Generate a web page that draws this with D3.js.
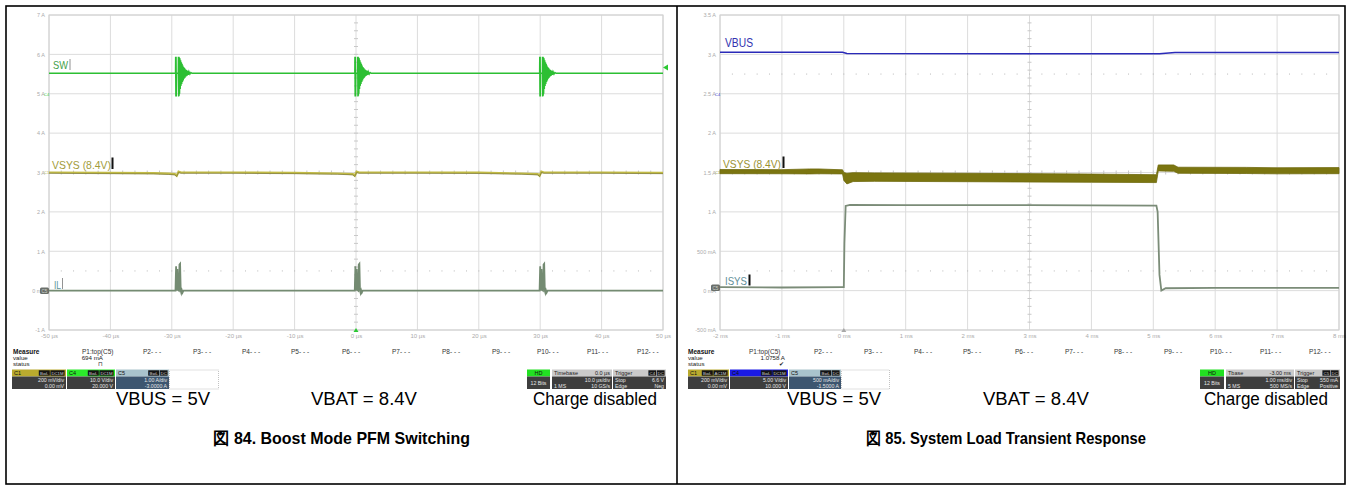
<!DOCTYPE html>
<html><head><meta charset="utf-8">
<script src="https://cdn.jsdelivr.net/npm/d3@7"></script>
<style>body{margin:0;background:#fff}svg{display:block;font-family:"Liberation Sans",Arial,sans-serif}</style>
</head><body><svg id="c" width="1351" height="487"></svg>
<script>
// ---------------- DATA ----------------
const leftTimeTicks = [-50,-40,-30,-20,-10,0,10,20,30,40,50];
const leftTimeLabels = ["-50 µs","-40 µs","-30 µs","-20 µs","-10 µs","0 µs","10 µs","20 µs","30 µs","40 µs","50 µs"];
const leftAmpTicks = [7,6,5,4,3,2,1,0,-1];
const leftAmpLabels = ["7 A","6 A","5 A","4 A","3 A","2 A","1 A","0 mA","-1 A"];
const rightTimeTicks = [-2,-1,0,1,2,3,4,5,6,7,8];
const rightTimeLabels = ["-2 ms","-1 ms","0 ms","1 ms","2 ms","3 ms","4 ms","5 ms","6 ms","7 ms","8 ms"];
const rightAmpTicks = [3.5,3,2.5,2,1.5,1,0.5,0,-0.5];
const rightAmpLabels = ["3.5 A","3 A","2.5 A","2 A","1.5 A","1 A","500 mA","0 mA","-500 mA"];

// Left scope (µs, A)
const swBaseline = 5.52;
const swBurstTimes = [-29.4, -0.2, 29.9];
const swBurstShape = [[0,5.52],[0.02,5.94],[0.06,4.93],[0.1,5.94],[0.14,4.93],[0.18,5.52],[0.45,5.52],[0.47,5.94],[0.51,4.93],[0.55,5.94],[0.59,4.95],[0.63,5.92],[0.67,5.0],[0.72,5.9],[0.78,5.12],[0.84,5.85],[0.9,5.2],[0.96,5.8],[1.02,5.25],[1.08,5.76],[1.14,5.3],[1.2,5.72],[1.27,5.34],[1.34,5.68],[1.41,5.38],[1.48,5.65],[1.56,5.41],[1.64,5.62],[1.72,5.44],[1.8,5.6],[1.9,5.46],[2.0,5.58],[2.1,5.48],[2.2,5.56],[2.35,5.5],[2.5,5.54],[2.7,5.52]];
const ilBurstShape = [[0,0],[0.1,0.62],[0.2,0.0],[0.3,0.55],[0.4,0.02],[0.55,0.0],[0.65,0.66],[0.75,0.68],[0.85,0.0],[0.95,-0.06],[1.05,0.0],[1.15,-0.05],[1.3,0.0]];
const vsysLeft = [[-50,3.0],[-40,2.99],[-33,2.985],[-30.5,2.97],[-29.5,2.96],[-29.2,2.92],[-28.9,3.02],[-28.5,3.0],[-20,3.0],[-10,2.99],[-3,2.975],[-0.5,2.96],[-0.2,2.92],[0.1,3.02],[0.5,3.0],[10,3.0],[20,2.995],[27,2.975],[29.6,2.96],[29.9,2.92],[30.2,3.02],[30.6,3.0],[40,3.0],[50,2.99]];

// Right scope (ms, A)
const vbusRight = [[-2,3.027],[-0.02,3.027],[0.05,3.01],[5.1,3.008],[5.35,3.025],[8,3.025]];
const vsysRightBand = [[-2,1.538,1.485],[-1,1.536,1.484],[-0.55,1.545,1.482],[-0.4,1.545,1.484],[-0.02,1.534,1.482],[0.0,1.50,1.40],[0.05,1.49,1.355],[0.15,1.498,1.385],[0.5,1.495,1.388],[2,1.49,1.383],[4,1.48,1.376],[5.05,1.472,1.372],[5.08,1.596,1.52],[5.33,1.596,1.515],[5.4,1.567,1.49],[6.5,1.565,1.487],[7,1.56,1.483],[8,1.562,1.485]];
const isysRight = [[-2,0.045],[-1,0.04],[-0.03,0.045],[0,0.045],[0.01,0.6],[0.03,1.075],[0.1,1.09],[1,1.085],[3,1.085],[5.05,1.08],[5.07,1.0],[5.1,0.2],[5.13,0.0],[5.2,0.03],[6,0.035],[8,0.035]];

const measureSlots = ["P1:top(C5)","P2- - -","P3- - -","P4- - -","P5- - -","P6- - -","P7- - -","P8- - -","P9- - -","P10- - -","P11- - -","P12- - -"];
const infoTexts = ["VBUS = 5V","VBAT = 8.4V","Charge disabled"];
const captions = ["図 84. Boost Mode PFM Switching","図 85. System Load Transient Response"];

// ---------------- DRAW ----------------
const svg = d3.select("#c");
svg.append("rect").attr("width",1351).attr("height",487).attr("fill","#fff");

function txt(g,x,y,s,size,fill,anchor,weight){
  return g.append("text").attr("x",x).attr("y",y).text(s).attr("font-size",size).attr("fill",fill||"#000")
    .attr("text-anchor",anchor||"start").attr("font-weight",weight||"normal");
}

function drawScope(cfg){
  const g = svg.append("g");
  const x = d3.scaleLinear().domain(cfg.xDomain).range([cfg.x0,cfg.x1]);
  const y = d3.scaleLinear().domain(cfg.yDomain).range([cfg.y1,cfg.y0]);
  g.selectAll(".vg").data(cfg.xTicks).join("line").attr("x1",d=>x(d)).attr("x2",d=>x(d)).attr("y1",cfg.y0).attr("y2",cfg.y1).attr("stroke","#dcdcdc").attr("stroke-width",1);
  g.selectAll(".hg").data(cfg.yTicks).join("line").attr("y1",d=>y(d)).attr("y2",d=>y(d)).attr("x1",cfg.x0).attr("x2",cfg.x1).attr("stroke","#dcdcdc").attr("stroke-width",1);
  g.append("rect").attr("x",cfg.x0).attr("y",cfg.y0).attr("width",cfg.x1-cfg.x0).attr("height",cfg.y1-cfg.y0).attr("fill","none").attr("stroke","#cfcfcf");
  const xd = (cfg.xDomain[1]-cfg.xDomain[0])/10, yd=(cfg.yDomain[1]-cfg.yDomain[0])/8;
  const cx = x(cfg.xDomain[0]+5*xd), cy = y(cfg.yDomain[0]+4*yd);
  const yMinor = d3.range(1,40).map(i=>cfg.yDomain[0]+i*yd/5);
  const xMinor = d3.range(1,50).map(i=>cfg.xDomain[0]+i*xd/5);
  g.selectAll(".ty").data(yMinor).join("line").attr("x1",cx-2).attr("x2",cx+2).attr("y1",d=>y(d)).attr("y2",d=>y(d)).attr("stroke","#c8c8c8");
  g.selectAll(".tx").data(xMinor).join("line").attr("y1",cy-2).attr("y2",cy+2).attr("x1",d=>x(d)).attr("x2",d=>x(d)).attr("stroke","#c8c8c8");
  cfg.dotLevels.forEach(lv=>{
    g.selectAll(null).data(xMinor).join("rect").attr("x",d=>x(d)-0.5).attr("y",y(lv)-0.5).attr("width",1).attr("height",1).attr("fill","#b8b8b8");
  });
  const ay = g.append("g").attr("transform",`translate(${cfg.x0-2},0)`)
    .call(d3.axisLeft(y).tickValues(cfg.yTicks).tickFormat((d,i)=>cfg.yLabels[i]).tickSize(0).tickPadding(2));
  ay.select(".domain").remove();
  ay.selectAll("text").attr("font-size",5.5).attr("fill","#ababab").attr("font-family","Liberation Sans, Arial");
  const ax = g.append("g").attr("transform",`translate(0,${cfg.y1+1})`)
    .call(d3.axisBottom(x).tickValues(cfg.xTicks).tickFormat((d,i)=>cfg.xLabels[i]).tickSize(0).tickPadding(3));
  ax.select(".domain").remove();
  ax.selectAll("text").attr("font-size",6).attr("fill","#ababab").attr("font-family","Liberation Sans, Arial");
  return {g,x,y};
}

// ===== LEFT SCOPE =====
const L = drawScope({x0:49,x1:663,y0:15,y1:330,xDomain:[-50,50],yDomain:[-1,7],xTicks:leftTimeTicks,xLabels:leftTimeLabels,yTicks:leftAmpTicks,yLabels:leftAmpLabels,dotLevels:[0.5]});
function withBursts(base, shape, times, t0, t1){
  const pts=[[t0,base]];
  times.forEach(tb=>{ pts.push([tb-0.05,base]); shape.forEach(p=>pts.push([tb+p[0],p[1]])); });
  pts.push([t1,base]);
  return pts;
}
const swSeries = withBursts(swBaseline, swBurstShape, swBurstTimes, -50, 50);
const ilSeries = withBursts(0, ilBurstShape, swBurstTimes, -50, 50);
const lineL = d3.line().x(d=>L.x(d[0])).y(d=>L.y(d[1]));
L.g.append("path").attr("d",lineL(vsysLeft)).attr("fill","none").attr("stroke","#c2bb45").attr("stroke-width",2.2);
L.g.append("path").attr("d",lineL(vsysLeft)).attr("transform","translate(0,0.8)").attr("fill","none").attr("stroke","#6b6a3a").attr("stroke-width",0.6);
L.g.append("path").attr("d",lineL(ilSeries)).attr("fill","none").attr("stroke","#748b72").attr("stroke-width",1.8);
L.g.append("path").attr("d",lineL(swSeries)).attr("fill","none").attr("stroke","#2cbf33").attr("stroke-width",1.4);
txt(L.g,53,68.5,"SW",11,"#3f9e48").attr("textLength",15).attr("lengthAdjust","spacingAndGlyphs");
L.g.append("line").attr("x1",70).attr("x2",70).attr("y1",59).attr("y2",70).attr("stroke","#777").attr("stroke-width",0.8);
txt(L.g,52,168.5,"VSYS (8.4V)",11,"#a29c3a").attr("textLength",59).attr("lengthAdjust","spacingAndGlyphs");
L.g.append("rect").attr("x",111.5).attr("y",157.5).attr("width",2).attr("height",11.5).attr("fill","#111");
txt(L.g,54,288.5,"IL",11,"#5b9399").attr("textLength",7).attr("lengthAdjust","spacingAndGlyphs");
L.g.append("line").attr("x1",62.5).attr("x2",62.5).attr("y1",278).attr("y2",289).attr("stroke","#777").attr("stroke-width",0.8);
txt(L.g,44,95.5,"C4",4,"#3ccf3c");
txt(L.g,44,174,"C1",4,"#b4ad3c");
L.g.append("rect").attr("x",40).attr("y",287.5).attr("width",9).attr("height",6.5).attr("rx",1.5).attr("fill","#6a6f6a");
txt(L.g,44.5,292.6,"C5",4.5,"#cfd6cf","middle");
L.g.append("path").attr("d",`M663,${67.5} l5,-3 v6 z`).attr("fill","#2cc833");
L.g.append("path").attr("d",`M${L.x(0)},${328} l-2.5,4 h5 z`).attr("fill","#2cc833");

// ===== RIGHT SCOPE =====
const R = drawScope({x0:720,x1:1339,y0:15,y1:330,xDomain:[-2,8],yDomain:[-0.5,3.5],xTicks:rightTimeTicks,xLabels:rightTimeLabels,yTicks:rightAmpTicks,yLabels:rightAmpLabels,dotLevels:[2.75,0.25]});
const lineR = d3.line().x(d=>R.x(d[0])).y(d=>R.y(d[1]));
const areaR = d3.area().x(d=>R.x(d[0])).y0(d=>R.y(d[2])).y1(d=>R.y(d[1]));
R.g.append("path").attr("d",areaR(vsysRightBand)).attr("fill","#7b7510").attr("stroke","#6f6a0c").attr("stroke-width",0.8);
R.g.append("path").attr("d",lineR(isysRight)).attr("fill","none").attr("stroke","#7b8c78").attr("stroke-width",1.8);
R.g.append("path").attr("d",lineR(vbusRight)).attr("fill","none").attr("stroke","#2a2ab8").attr("stroke-width",1.5);
txt(R.g,725,47,"VBUS",12,"#3232b0").attr("textLength",28).attr("lengthAdjust","spacingAndGlyphs");
txt(R.g,723,167.5,"VSYS (8.4V)",11,"#9a9232").attr("textLength",58).attr("lengthAdjust","spacingAndGlyphs");
R.g.append("rect").attr("x",782.5).attr("y",156.5).attr("width",2).attr("height",11.5).attr("fill","#111");
txt(R.g,725,285,"ISYS",11,"#5f8e97").attr("textLength",22).attr("lengthAdjust","spacingAndGlyphs");
R.g.append("rect").attr("x",748.5).attr("y",274.5).attr("width",2).attr("height",11).attr("fill","#111");
txt(R.g,715,96,"C4",4,"#3a3ad0");
txt(R.g,715,174,"C1",4,"#8f8a20");
R.g.append("rect").attr("x",711).attr("y",284.5).attr("width",9).attr("height",6.5).attr("rx",1.5).attr("fill","#6a6f6a");
txt(R.g,715.5,289.6,"C5",4.5,"#cfd6cf","middle");
R.g.append("path").attr("d",`M${R.x(0)},${328} l-2.5,4 h5 z`).attr("fill","#a8a8a8");

// ===== MEASUREMENT BARS =====
function measureBar(x0, slotXs, val, statusGlyph, valRight, statusX){
  const g = svg.append("g");
  txt(g,x0,354,"Measure",6.5,"#111","start","bold");
  txt(g,x0,359.8,"value",6.2,"#222");
  txt(g,x0,365.5,"status",6.2,"#222");
  measureSlots.forEach((s,i)=>txt(g,slotXs[i],354,s,6.5,"#333"));
  txt(g,valRight,359.8,val,6.2,"#222","end");
  txt(g,statusX,365.5,statusGlyph,6,"#222","middle");
}
measureBar(13,[82,143,193,242,291,342,392,442,492,537,587,637],"694 mA","⊓",103,100);
measureBar(688,[749,814,864,914,963,1015,1065,1114,1164,1210,1260,1309],"1.0758 A","✔",785,781);

function badge(x,w,hdrFill,hdrText,hdrTextFill,tags,bodyFill,lines,hdrRight){
  const g = svg.append("g"), y=369.5;
  g.append("rect").attr("x",x).attr("y",y).attr("width",w).attr("height",7).attr("fill",hdrFill);
  txt(g,x+2,y+5.6,hdrText,5.5,hdrTextFill);
  let tx = x+w-0.8;
  tags.slice().reverse().forEach(t=>{
    const tw = t.length*3.2+2; tx -= tw;
    g.append("rect").attr("x",tx).attr("y",y+0.8).attr("width",tw-0.6).attr("height",5.4).attr("fill","#141414");
    txt(g,tx+tw/2-0.3,y+5.1,t,4.3,"#cfcfcf","middle");
  });
  if(hdrRight) txt(g,tx-2,y+5.6,hdrRight,5.5,hdrTextFill,"end");
  g.append("rect").attr("x",x).attr("y",y+7).attr("width",w).attr("height",12.5).attr("fill",bodyFill);
  lines.forEach((l,i)=>{
    const by = y+12.6+i*6;
    if(Array.isArray(l)){ txt(g,x+2,by,l[0],5.2,"#e6e6e6"); txt(g,x+w-2,by,l[1],5.2,"#e6e6e6","end"); }
    else if(l.c){ txt(g,x+w/2,by+3,l.c,5.2,"#e6e6e6","middle"); }
    else txt(g,x+w-2,by,l,5.2,"#e6e6e6","end");
  });
}
function dashedBox(x,w){
  svg.append("rect").attr("x",x+0.5).attr("y",370).attr("width",w).attr("height",19).attr("fill","none").attr("stroke","#9a9a9a").attr("stroke-width",0.6).attr("stroke-dasharray","1,1");
}
badge(12,54,"#b9aa2e","C1","#111",["BwL","DC1M"],"#3e3e3e",["200 mV/div","0.00 mV"]);
badge(67,48,"#2bea2b","C4","#111",["BwL","DC1M"],"#3e3e3e",["10.0 V/div","20.000 V"]);
badge(116,53,"#a9c3cc","C5","#111",["BwL","DC"],"#3d5670",["1.00 A/div","-3.0000 A"]);
dashedBox(169,49);
badge(527,23,"#22e022","","#111",[],"#3e3e3e",[{c:"12 Bits"}]);
txt(svg,538.5,375,"HD",5.5,"#111","middle");
badge(552,60,"#cacaca","Timebase","#222",[],"#3e3e3e",["10.0 µs/div",["1 MS","10 GS/s"]],null);
txt(svg,610,375,"0.0 µs",5.5,"#222","end");
badge(613,53,"#cacaca","Trigger","#222",["C4","DC"],"#3e3e3e",[["Stop","6.6 V"],["Edge","Neg"]]);
badge(688,41,"#b9aa2e","C1","#111",["BwL","AC1M"],"#3e3e3e",["200 mV/div","0.00 mV"]);
badge(730,58,"#1a1ae6","C4","#111",["BwL","DC1M"],"#3e3e3e",["5.00 V/div","10.000 V"]);
badge(789,52,"#a9c3cc","C5","#111",["BwL","DC"],"#3d5670",["500 mA/div","-1.5000 A"]);
dashedBox(841,48);
badge(1200,24,"#22e022","","#111",[],"#3e3e3e",[{c:"12 Bits"}]);
txt(svg,1212,375,"HD",5.5,"#111","middle");
badge(1226,68,"#cacaca","Tbase","#222",[],"#3e3e3e",["1.00 ms/div",["5 MS","500 MS/s"]]);
txt(svg,1291,375,"-3.00 ms",5.5,"#222","end");
badge(1295,45,"#cacaca","Trigger","#222",["C5","DC"],"#3e3e3e",[["Stop","550 mA"],["Edge","Positive"]]);

// ===== INFO TEXT + CAPTIONS =====
const infoX = [[116,311,533],[787,983,1204]];
const infoW = [94,106,124];
infoX.forEach(row=>row.forEach((xx,i)=>{
  txt(svg,xx,405,infoTexts[i],18,"#000").attr("textLength",infoW[i]).attr("lengthAdjust","spacingAndGlyphs");
}));
txt(svg,213,444,captions[0],16.5,"#000","start","bold").attr("textLength",257).attr("lengthAdjust","spacingAndGlyphs");
txt(svg,866,444,captions[1],16.5,"#000","start","bold").attr("textLength",280).attr("lengthAdjust","spacingAndGlyphs");

// ===== TABLE BORDERS =====
svg.append("rect").attr("x",6).attr("y",6).attr("width",1339).attr("height",478).attr("fill","none").attr("stroke","#000").attr("stroke-width",1.6);
svg.append("line").attr("x1",677).attr("x2",677).attr("y1",6).attr("y2",484).attr("stroke","#000").attr("stroke-width",1.6);
</script></body></html>
